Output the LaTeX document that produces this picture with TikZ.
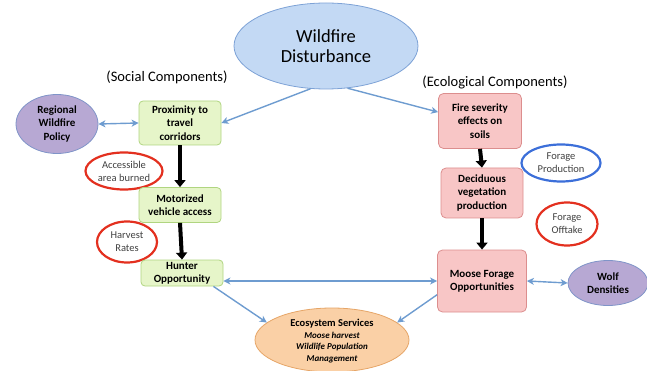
\documentclass[tikz,border=0pt]{standalone}
\usepackage{fontspec}
\setmainfont{Carlito}
\usepackage{tikz}
\usepackage{xcolor}
\usetikzlibrary{arrows,arrows.meta,shapes.geometric,positioning}

\definecolor{greenfill}{HTML}{E6F5C9}
\definecolor{greenline}{HTML}{B0D580}
\definecolor{pinkfill}{HTML}{F8C6C6}
\definecolor{pinkline}{HTML}{DC8E8E}
\definecolor{skyfill}{HTML}{C3D9F4}
\definecolor{skyline}{HTML}{7DA2D6}
\definecolor{lilacfill}{HTML}{B7A8D3}
\definecolor{lilacline}{HTML}{7F94C8}
\definecolor{peachfill}{HTML}{FAD0A6}
\definecolor{peachline}{HTML}{E6A567}
\definecolor{ringred}{HTML}{E3301F}
\definecolor{ringblue}{HTML}{3C6FD9}
\definecolor{linkblue}{HTML}{6E9CD0}

\begin{document}
\begin{tikzpicture}
[x=1pt,y=-1pt,font=\fontsize{11}{13.3}\selectfont,
      greenbox/.style={draw=greenline,fill=greenfill,rounded corners=4pt,
      line width=0.8pt,align=center,font=\fontsize{11}{13.3}\selectfont\bfseries,inner sep=1pt},
      pinkbox/.style={draw=pinkline,fill=pinkfill,rounded corners=5pt,
      line width=0.8pt,align=center,font=\fontsize{11}{13.3}\selectfont\bfseries,inner sep=1pt},
      blob/.style={ellipse,line width=0.8pt,align=center,inner sep=0pt,
      font=\fontsize{11}{13.3}\selectfont\bfseries},
      ring/.style={ellipse,line width=2.2pt,draw=ringred,align=center,inner sep=0pt,
      text=black!75,font=\fontsize{10.5}{12.8}\selectfont},
      link/.style={draw=linkblue,line width=1.4pt,-{Stealth[length=7pt,width=7pt,inset=2pt]}},
      twolink/.style={draw=linkblue,line width=1.4pt,
      {Stealth[length=7pt,width=7pt,inset=2pt]}-{Stealth[length=7pt,width=7pt,inset=2pt]}},
      flow/.style={line width=4pt,-{Triangle[width=11pt,length=7pt]}}]
 \useasboundingbox (0,0) rectangle (647,371);
 \node[blob,draw=skyline,fill=skyfill,minimum width=184,minimum height=86,
   font=\fontsize{18.5}{20}\selectfont] (fire) at (326,46) {Wildfire\\Disturbance};
 \node[font=\fontsize{14.5}{16}\selectfont] (social) at (167,77) {(Social Components)};
 \node[font=\fontsize{14.5}{16}\selectfont] (eco) at (495,82) {(Ecological Components)};
 \node[blob,draw=lilacline,fill=lilacfill,minimum width=82,minimum height=59]
   (policy) at (57,124) {Regional\\Wildfire\\Policy};
 \node[greenbox,minimum width=82,minimum height=44] (prox) at (180,123)
   {Proximity to\\travel\\corridors};
 \node[ring,minimum width=77,minimum height=37] (burned) at (124,171)
   {Accessible\\area burned};
 \node[greenbox,minimum width=82,minimum height=35] (motor) at (180,205)
   {Motorized\\vehicle access};
 \node[ring,minimum width=60,minimum height=41] (harvest) at (127,242)
   {Harvest\\Rates};
 \node[greenbox,minimum width=82,minimum height=26] (hunter) at (182,273)
   {Hunter\\Opportunity};
 \node[blob,draw=peachline,fill=peachfill,minimum width=154,minimum height=64]
   (services) at (332,340) {};
 \node[align=center,font=\fontsize{10.5}{11.5}\selectfont\bfseries] (servtext) at (332,341)
   {Ecosystem Services\\{\fontsize{9}{11.5}\selectfont\itshape Moose harvest}\\
   {\fontsize{9}{11.5}\selectfont\itshape Wildlife Population}\\
   {\fontsize{9}{11.5}\selectfont\itshape Management}};
 \node[pinkbox,minimum width=83,minimum height=55] (soil) at (480,121)
   {Fire severity\\effects on\\soils};
 \node[ring,draw=ringblue,minimum width=79,minimum height=37] (prod) at (561,163)
   {Forage\\Production};
 \node[pinkbox,minimum width=82,minimum height=50] (decid) at (482,193)
   {Deciduous\\vegetation\\production};
 \node[ring,minimum width=61,minimum height=43] (offtake) at (567,224)
   {Forage\\Offtake};
 \node[pinkbox,minimum width=89,minimum height=62] (moose) at (482,281)
   {Moose Forage\\Opportunities};
 \node[blob,draw=lilacline,fill=lilacfill,minimum width=80,minimum height=45]
   (wolf) at (608,283) {Wolf\\Densities};
 \draw[link] (fire.250) -- (prox.east);
 \draw[link] (fire.297) -- (soil.168);
 \draw[twolink] (policy.east) -- (prox.west);
 \draw[flow] (prox.south) -- (motor.north);
 \draw[flow] (motor.south) -- (hunter.north);
 \draw[flow] (soil.south) -- (decid.north);
 \draw[flow] (decid.south) -- (moose.north);
 \draw[twolink] (hunter.east |- moose.west) -- (moose.west);
 \draw[link] (hunter.south east) ++(-10,0) -- (services.165);
 \draw[link] (moose.197) -- (services.15);
 \draw[twolink] (moose.east) -- (wolf.west);
\end{tikzpicture}
\end{document}
